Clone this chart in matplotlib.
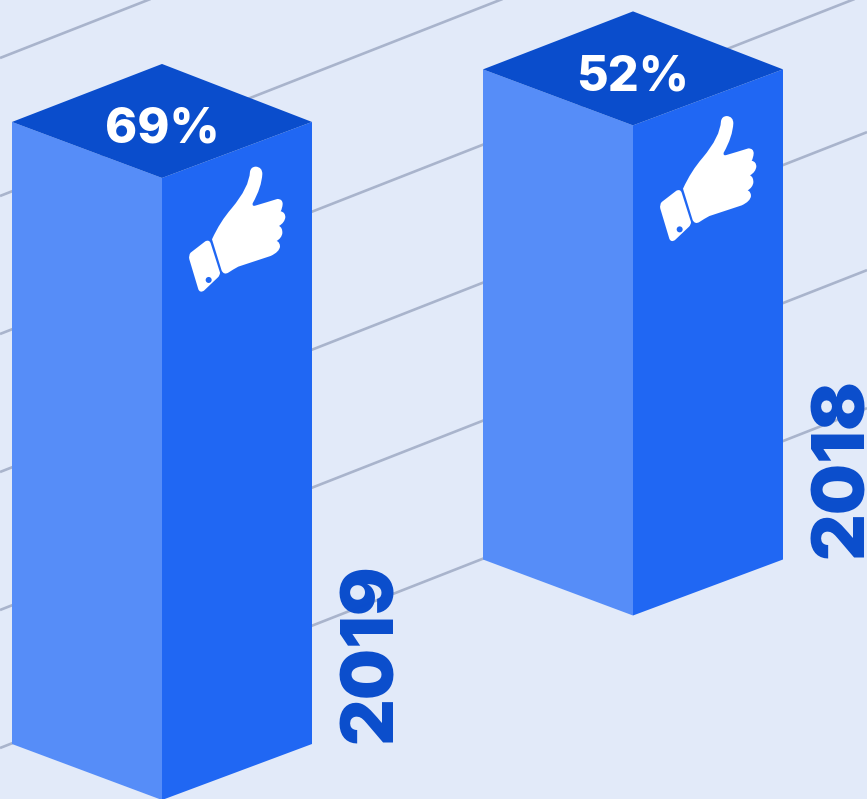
import matplotlib
matplotlib.use("Agg")
import matplotlib.pyplot as plt
from matplotlib.path import Path
from matplotlib.patches import Polygon, PathPatch, Circle
from matplotlib.transforms import Affine2D

W, H = 867, 799

# Survey results
years = ["2019", "2018"]
shares = [69, 52]

# Column placement on the isometric floor
front_x = [162, 633]
floor_y = [800, 615.5]
icon_rise = [28, 26]
half_width = 150
depth = 56
unit_height = 7.76
plinth = 86.6

# Receding guide lines, given by where they meet the left edge
guide_offsets = [58, 196, 334, 472, 610, 748]
guide_slope = -0.392

BG = "#E2EAF9"
LEFT = "#568DF8"
RIGHT = "#2067F3"
TOP = "#0A4DCC"
GUIDE = "#A9B4CC"

plt.rcParams["font.family"] = ["Inter", "DejaVu Sans"]

fig = plt.figure(figsize=(W / 100, H / 100), dpi=100, facecolor=BG)
ax = fig.add_axes([0, 0, 1, 1])
ax.set_xlim(0, W)
ax.set_ylim(H, 0)
ax.axis("off")

for c in guide_offsets:
    ax.plot([0, W], [c, c + guide_slope * W], color=GUIDE, lw=1.9, zorder=1,
            solid_capstyle="butt")

# Thumbs-up outline, drawn in local units around the hand
M, L, Q, Z = Path.MOVETO, Path.LINETO, Path.CURVE3, Path.CLOSEPOLY
hand = [
    (M, (126, 268)),
    (Q, (150, 215)), (Q, (185, 175)),
    (Q, (238, 112)), (Q, (240, 65)),
    (Q, (243, 50)), (Q, (258, 50)),
    (Q, (277, 52)), (Q, (277, 72)),
    (Q, (275, 112)), (Q, (248, 160)),
    (Q, (246, 170)), (Q, (256, 167)),
    (Q, (290, 157)), (Q, (322, 147)),
    (Q, (338, 147)), (Q, (338, 162)),
    (Q, (337, 176)), (Q, (332, 184)),
    (Q, (346, 187)), (Q, (346, 202)),
    (Q, (344, 218)), (Q, (327, 228)),
    (Q, (338, 233)), (Q, (337, 250)),
    (Q, (335, 264)), (Q, (320, 273)),
    (Q, (330, 277)), (Q, (330, 290)),
    (Q, (328, 306)), (Q, (302, 318)),
    (L, (205, 350)),
    (Q, (190, 358)), (Q, (175, 368)),
    (Q, (162, 376)), (Q, (155, 362)),
    (L, (126, 268)),
]
cuff = [
    (M, (62, 308)),
    (L, (106, 274)),
    (Q, (118, 268)), (Q, (122, 280)),
    (L, (150, 368)),
    (Q, (150, 376)), (Q, (144, 382)),
    (L, (102, 422)),
    (Q, (90, 430)), (Q, (85, 418)),
    (L, (58, 328)),
    (Q, (55, 316)), (Q, (62, 308)),
]


def icon_path(segments):
    codes = [s[0] for s in segments]
    verts = [s[1] for s in segments]
    return Path(verts, codes)


for year, share, cx, fy, rise in zip(years, shares, front_x, floor_y, icon_rise):
    h = plinth + unit_height * share
    top_y = fy - h
    hw = half_width
    ax.add_patch(Polygon([(cx - hw, top_y - depth), (cx, top_y), (cx, fy), (cx - hw, fy - depth)],
                         fc=LEFT, ec="none", zorder=2))
    ax.add_patch(Polygon([(cx + hw, top_y - depth), (cx, top_y), (cx, fy), (cx + hw, fy - depth)],
                         fc=RIGHT, ec="none", zorder=2))
    ax.add_patch(Polygon([(cx - hw, top_y - depth), (cx, top_y - 2 * depth - 2),
                          (cx + hw, top_y - depth), (cx, top_y)],
                         fc=TOP, ec="none", zorder=3))
    ax.text(cx, top_y - 35, f"{share}%", color="white", fontsize=35, fontweight=800,
            ha="center", va="baseline", zorder=4)
    ax.text(cx + 211, fy - 57, year, color=TOP, fontsize=52, fontweight="black",
            rotation=90, ha="center", va="bottom", zorder=4)

    # Icon sits at a fixed offset from the column's front edge
    place = Affine2D().scale(1 / 3).translate(cx + 8, top_y - rise) + ax.transData
    ax.add_patch(PathPatch(icon_path(hand), fc="white", ec="none", transform=place, zorder=4))
    ax.add_patch(PathPatch(icon_path(cuff), fc="white", ec="none", transform=place, zorder=4))
    ax.add_patch(Circle((116, 390), 9, fc=RIGHT, ec="none", transform=place, zorder=5))

fig.savefig("out.png", dpi=100, facecolor=BG)
